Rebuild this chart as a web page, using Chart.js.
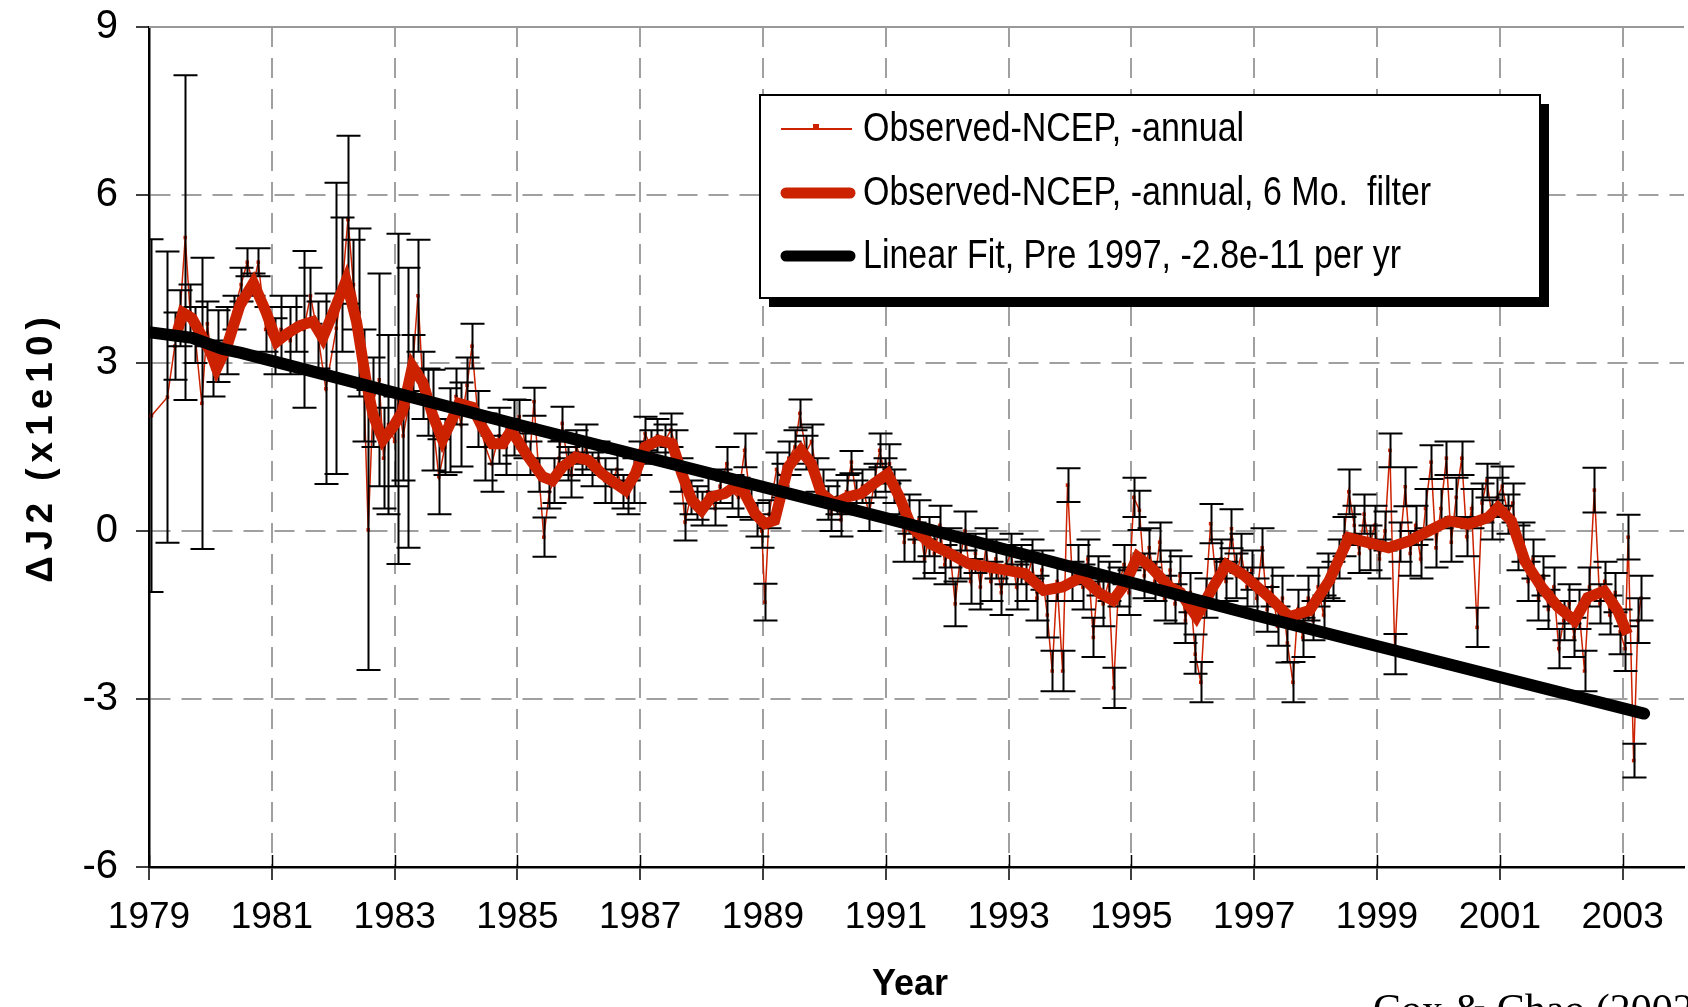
<!DOCTYPE html>
<html><head><meta charset="utf-8">
<script src="https://cdn.jsdelivr.net/npm/chart.js@4/dist/chart.umd.min.js"></script>
<style>html,body{margin:0;padding:0;background:#fff;overflow:hidden}#wrap{width:1688px;height:1007px;position:relative}</style>
</head><body><div id="wrap"><canvas id="c" width="1688" height="1007"></canvas></div>
<script>
// ---------- data ----------
const xTickYears = [1979,1981,1983,1985,1987,1989,1991,1993,1995,1997,1999,2001,2003];
const yTickValues = [-6,-3,0,3,6,9];

const obsYears = [
1979.04,1979.30,1979.42,1979.50,1979.59,1979.67,1979.75,1979.86,1979.95,1980.04,1980.13,1980.27,1980.38,1980.50,1980.60,1980.70,1980.78,1980.90,
1981.05,1981.15,1981.30,1981.40,1981.52,1981.63,1981.75,1981.88,1982.05,1982.15,1982.24,1982.33,1982.42,1982.50,1982.57,1982.65,1982.75,1982.82,1982.90,
1983.00,1983.06,1983.14,1983.22,1983.30,1983.38,1983.46,1983.55,1983.62,1983.72,1983.82,1983.90,1984.00,1984.08,1984.18,1984.26,1984.36,1984.48,1984.58,1984.70,1984.82,1984.95,
1985.03,1985.12,1985.20,1985.27,1985.35,1985.43,1985.52,1985.60,1985.68,1985.73,1985.82,1985.88,1985.96,1986.05,1986.12,1986.22,1986.32,1986.42,1986.52,1986.62,1986.72,1986.80,1986.90,
1987.00,1987.08,1987.18,1987.28,1987.40,1987.50,1987.58,1987.66,1987.73,1987.82,1987.92,1988.00,1988.10,1988.22,1988.30,1988.41,1988.50,1988.60,1988.70,1988.80,1988.90,1988.98,
1989.03,1989.10,1989.22,1989.32,1989.42,1989.52,1989.60,1989.70,1989.79,1989.88,1989.98,1990.06,1990.11,1990.20,1990.27,1990.36,1990.44,1990.52,1990.62,1990.73,1990.82,1990.90,1990.98,
1991.06,1991.14,1991.22,1991.30,1991.38,1991.46,1991.54,1991.63,1991.71,1991.79,1991.88,1991.96,
1992.04,1992.13,1992.21,1992.29,1992.38,1992.46,1992.54,1992.63,1992.71,1992.79,1992.88,1992.96,
1993.04,1993.13,1993.21,1993.29,1993.38,1993.46,1993.54,1993.63,1993.71,1993.79,1993.88,1993.96,
1994.04,1994.13,1994.21,1994.29,1994.38,1994.46,1994.54,1994.63,1994.71,1994.79,1994.88,1994.96,
1995.04,1995.13,1995.21,1995.29,1995.38,1995.46,1995.54,1995.63,1995.71,1995.79,1995.88,1995.96,
1996.04,1996.13,1996.21,1996.29,1996.38,1996.46,1996.54,1996.63,1996.71,1996.79,1996.88,1996.96,
1997.04,1997.13,1997.21,1997.29,1997.38,1997.46,1997.54,1997.63,1997.71,1997.79,1997.88,1997.96,
1998.04,1998.13,1998.21,1998.29,1998.38,1998.46,1998.54,1998.63,1998.71,1998.79,1998.88,1998.96,
1999.04,1999.13,1999.21,1999.29,1999.38,1999.46,1999.54,1999.63,1999.71,1999.79,1999.88,1999.96,
2000.04,2000.13,2000.21,2000.29,2000.38,2000.46,2000.54,2000.63,2000.71,2000.79,2000.88,2000.96,
2001.04,2001.13,2001.21,2001.29,2001.38,2001.46,2001.54,2001.63,2001.71,2001.79,2001.88,2001.96,
2002.04,2002.13,2002.21,2002.29,2002.38,2002.46,2002.54,2002.63,2002.71,2002.79,2002.88,2002.96,
2003.04,2003.09,2003.18,2003.25,2003.30];

const obsValues = [
2.06,2.39,3.3,3.8,5.24,3.9,3.5,2.28,3.7,2.9,3.3,3.4,3.9,4.4,4.8,4.4,4.8,3.6,
3.3,3.6,3.4,3.7,3.6,4.2,3.5,2.54,3.62,4.4,5.56,4.4,3.9,2.6,0.02,2.3,2.7,1.3,1.9,
1.6,2.36,1.7,2.2,3.0,4.2,2.6,2.3,1.98,0.97,1.5,1.8,2.4,1.9,2.6,3.3,2.0,1.5,1.2,1.7,1.5,1.85,
2.04,1.6,1.3,2.31,1.0,-0.11,0.7,0.9,1.3,1.92,1.2,1.0,1.5,1.3,1.5,1.1,1.3,0.9,0.8,1.1,0.7,0.6,0.9,
1.3,1.74,1.5,1.7,1.6,1.8,1.5,1.0,0.16,0.6,0.5,0.4,0.7,0.4,0.8,1.2,0.7,0.6,1.44,0.5,0.2,0.0,
-1.27,0.3,1.1,0.9,1.3,1.5,2.1,1.4,1.6,1.0,0.8,0.5,0.3,0.6,0.2,0.7,1.23,0.6,0.8,0.3,0.9,1.44,1.0,
1.2,0.8,0.6,-0.2,0.3,-0.2,0.2,-0.5,-0.1,-0.4,0.1,-0.6,
-0.3,-1.3,-0.5,0.0,-0.9,-0.4,-1.0,-0.3,-0.9,-0.5,-1.1,-0.6,
-0.4,-1.0,-0.6,-0.9,-0.5,-1.2,-0.7,-1.5,-2.5,-0.9,-2.5,0.82,
-0.9,-0.6,-1.0,-0.5,-1.9,-0.8,-1.3,-0.9,-2.8,-1.0,-0.6,-1.1,
0.6,0.37,-0.8,-0.3,-0.9,-0.2,-1.2,-0.7,-1.3,-0.8,-1.6,-1.1,
-2.2,-2.7,-1.2,0.13,-0.9,-0.5,-0.9,0.04,-0.8,-0.4,-1.0,-0.7,
-1.2,-0.3,-1.4,-1.0,-1.7,-1.2,-2.0,-2.7,-1.4,-1.9,-1.2,-1.6,
-1.0,-1.5,-0.8,-0.9,-0.5,-0.1,0.7,0.1,-0.4,0.3,-0.3,0.1,
-0.5,0.0,1.44,-2.2,-0.2,0.79,-0.4,0.1,-0.5,0.4,1.23,-0.3,
0.4,1.3,-0.2,0.6,1.3,-0.1,0.4,-1.72,0.5,0.9,0.2,0.6,
0.8,0.3,0.5,-0.3,-0.2,-0.9,-0.5,-1.2,-0.8,-1.4,-1.0,-2.1,
-1.6,-1.3,-1.9,-1.4,-2.5,-1.0,0.73,-1.3,-0.9,-1.5,-1.1,-1.8,
-2.1,-0.11,-4.1,-1.6,-1.2];

const obsErrors = [
3.15,2.6,0.6,0.5,2.9,0.5,0.5,2.6,0.4,0.5,0.64,0.6,0.3,0.3,0.25,0.2,0.25,0.4,
0.5,0.6,0.6,0.5,1.4,0.5,0.6,1.7,2.6,1.2,1.5,0.8,1.5,1.0,2.5,0.8,1.9,0.9,1.6,
0.8,2.95,0.8,2.5,0.5,1.0,0.6,0.6,0.9,0.67,0.5,0.75,0.5,0.75,0.5,0.4,0.5,0.6,0.5,0.5,0.5,0.5,
0.3,0.3,0.3,0.25,0.3,0.35,0.3,0.4,0.3,0.3,0.3,0.4,0.3,0.3,0.4,0.3,0.3,0.4,0.3,0.3,0.3,0.3,0.4,
0.3,0.3,0.3,0.3,0.3,0.3,0.3,0.3,0.33,0.3,0.3,0.3,0.3,0.3,0.3,0.3,0.3,0.35,0.3,0.3,0.3,0.3,
0.33,0.25,0.3,0.3,0.3,0.3,0.25,0.3,0.3,0.3,0.3,0.3,0.3,0.3,0.3,0.3,0.2,0.3,0.3,0.3,0.3,0.3,0.3,
0.35,0.3,0.3,0.35,0.35,0.35,0.35,0.35,0.35,0.35,0.35,0.35,
0.35,0.4,0.35,0.35,0.4,0.35,0.4,0.35,0.35,0.35,0.4,0.35,
0.35,0.4,0.35,0.35,0.35,0.4,0.35,0.4,0.36,0.35,0.36,0.3,
0.35,0.35,0.4,0.35,0.35,0.35,0.4,0.35,0.36,0.35,0.35,0.4,
0.35,0.35,0.4,0.35,0.35,0.35,0.4,0.35,0.35,0.35,0.4,0.35,
0.35,0.36,0.35,0.35,0.4,0.35,0.35,0.35,0.4,0.35,0.35,0.35,
0.35,0.35,0.4,0.35,0.35,0.4,0.35,0.36,0.35,0.35,0.4,0.35,
0.35,0.35,0.4,0.35,0.35,0.35,0.4,0.35,0.35,0.35,0.4,0.35,
0.35,0.35,0.3,0.36,0.35,0.35,0.4,0.35,0.35,0.35,0.3,0.35,
0.35,0.3,0.35,0.35,0.3,0.35,0.35,0.35,0.35,0.3,0.35,0.35,
0.35,0.35,0.35,0.4,0.35,0.35,0.35,0.4,0.35,0.35,0.35,0.35,
0.35,0.35,0.35,0.35,0.36,0.35,0.4,0.35,0.35,0.35,0.35,0.4,
0.4,0.4,0.3,0.4,0.4];

const filtYears = [
1979.42,1979.55,1979.70,1979.85,1980.00,1980.10,1980.27,1980.48,1980.70,1980.91,1981.08,1981.24,1981.46,1981.67,1981.83,
1982.00,1982.21,1982.38,1982.54,1982.65,1982.81,1982.97,1983.13,1983.29,1983.46,1983.62,1983.78,1983.94,1984.05,1984.27,
1984.43,1984.59,1984.76,1984.90,1985.14,1985.41,1985.57,1985.73,1985.95,1986.16,1986.38,1986.60,1986.76,1986.92,1987.08,
1987.30,1987.52,1987.68,1987.84,1988.00,1988.16,1988.38,1988.54,1988.70,1988.87,1989.03,1989.19,1989.30,1989.41,1989.62,
1989.79,1989.95,1990.17,1990.38,1990.60,1990.81,1991.03,1991.22,1991.42,1991.73,1992.04,1992.34,1992.65,1992.96,1993.27,
1993.57,1993.88,1994.19,1994.49,1994.70,1994.90,1995.10,1995.31,1995.62,1995.80,1996.06,1996.33,1996.55,1996.82,1997.25,
1997.57,1997.90,1998.22,1998.54,1998.76,1999.19,1999.52,1999.84,2000.17,2000.49,2000.81,2000.97,2001.19,2001.41,2001.68,
2001.95,2002.22,2002.43,2002.70,2002.92,2003.08];
const filtValues = [
3.4,3.9,3.8,3.5,3.2,2.9,3.3,4.03,4.43,3.9,3.38,3.52,3.67,3.74,3.45,
3.9,4.47,3.74,2.65,2.07,1.63,1.85,2.14,2.94,2.65,2.07,1.63,2.0,2.28,2.21,
1.85,1.56,1.56,1.8,1.38,0.97,0.9,1.14,1.32,1.26,1.02,0.85,0.73,1.02,1.5,
1.62,1.56,1.02,0.55,0.37,0.61,0.67,0.79,0.67,0.31,0.13,0.19,0.67,1.14,1.44,
1.2,0.67,0.49,0.61,0.67,0.85,1.02,0.61,0.07,-0.23,-0.4,-0.58,-0.64,-0.7,-0.76,
-1.06,-1.0,-0.82,-1.12,-1.24,-0.94,-0.46,-0.64,-1.0,-1.1,-1.53,-1.0,-0.6,-0.78,-1.19,
-1.53,-1.42,-0.89,-0.12,-0.18,-0.3,-0.18,0.0,0.18,0.12,0.24,0.42,0.18,-0.54,-1.0,
-1.36,-1.6,-1.19,-1.07,-1.42,-1.84];

const fitYears  = [1979.0,1979.7,1980.2,1980.5,1985.0,1991.0,1997.0,2003.35];
const fitValues = [3.55,3.45,3.25,3.18,1.9,0.23,-1.5,-3.26];

const legendLabels = ['Observed-NCEP, -annual','Observed-NCEP, -annual, 6 Mo.  filter','Linear Fit, Pre 1997, -2.8e-11 per yr'];
const xTitle = 'Year';
const yTitle = '\u0394J2 (x1e10)';
const credit = 'Cox & Chao (2002)';

// ---------- styling ----------
const RED = '#cc2200';
const SANS = '"Liberation Sans", Arial, sans-serif';
const pts = (xs, ys) => xs.map((x, i) => ({x, y: ys[i]}));

const extras = {
  id: 'extras',
  afterDatasetDraw(chart, args) {
    if (args.index !== 0) return;
    const {ctx, chartArea: a} = chart;
    const xs = chart.scales.x, ys = chart.scales.y;
    ctx.save();
    ctx.beginPath(); ctx.rect(a.left, a.top - 2, a.right - a.left, a.bottom - a.top + 4); ctx.clip();
    ctx.strokeStyle = '#000'; ctx.lineWidth = 2;
    ctx.beginPath();
    obsYears.forEach((yr, i) => {
      const px = Math.round(xs.getPixelForValue(yr)) + 0.5;
      const top = ys.getPixelForValue(obsValues[i] + obsErrors[i]);
      const bot = ys.getPixelForValue(obsValues[i] - obsErrors[i]);
      ctx.moveTo(px, top); ctx.lineTo(px, bot);
      ctx.moveTo(px - 12, top); ctx.lineTo(px + 12, top);
      ctx.moveTo(px - 12, bot); ctx.lineTo(px + 12, bot);
    });
    ctx.stroke();
    ctx.restore();
  },
  afterDraw(chart) {
    const {ctx, chartArea: a} = chart;
    const xs = chart.scales.x;
    ctx.save();
    // top border of plot area
    ctx.strokeStyle = '#999'; ctx.lineWidth = 2;
    ctx.beginPath(); ctx.moveTo(a.left, a.top); ctx.lineTo(a.right, a.top); ctx.stroke();
    // inner half of x tick marks
    ctx.strokeStyle = '#000'; ctx.lineWidth = 1.5;
    ctx.beginPath();
    xTickYears.forEach(v => { const px = Math.round(xs.getPixelForValue(v)) + 0.5; ctx.moveTo(px, a.bottom); ctx.lineTo(px, a.bottom - 12); });
    ctx.stroke();
    // legend
    const L = 760, T = 95, W = 780, H = 203;
    ctx.fillStyle = '#000'; ctx.fillRect(L + 9, T + 9, W, H);
    ctx.fillStyle = '#fff'; ctx.fillRect(L, T, W, H);
    ctx.strokeStyle = '#000'; ctx.lineWidth = 2; ctx.strokeRect(L, T, W, H);
    const rows = [129, 193, 256];
    ctx.strokeStyle = RED; ctx.lineWidth = 2;
    ctx.beginPath(); ctx.moveTo(781, rows[0]); ctx.lineTo(852, rows[0]); ctx.stroke();
    ctx.fillStyle = RED; ctx.fillRect(813, rows[0] - 5, 6, 6);
    ctx.lineWidth = 11; ctx.lineCap = 'round';
    ctx.beginPath(); ctx.moveTo(786, rows[1]); ctx.lineTo(850, rows[1]); ctx.stroke();
    ctx.strokeStyle = '#000';
    ctx.beginPath(); ctx.moveTo(786, rows[2]); ctx.lineTo(850, rows[2]); ctx.stroke();
    ctx.fillStyle = '#000'; ctx.textBaseline = 'middle'; ctx.textAlign = 'left';
    ctx.font = '40px ' + SANS;
    legendLabels.forEach((t, i) => {
      ctx.save(); ctx.translate(863, rows[i] + 1); ctx.scale(0.85, 1); ctx.fillText(t, 0, 0); ctx.restore();
    });
    // axis titles
    ctx.font = 'bold 36px ' + SANS;
    ctx.textAlign = 'center'; ctx.textBaseline = 'alphabetic';
    ctx.fillText(xTitle, 910, 995);
    ctx.save();
    ctx.translate(52, 447); ctx.rotate(-Math.PI / 2);
    ctx.font = 'bold 37px ' + SANS;
    ctx.letterSpacing = '6px';
    ctx.fillText(yTitle, 0, 0);
    ctx.restore();
    // credit (cut off at bottom like the reference)
    ctx.font = '42px "Liberation Serif", "Times New Roman", serif';
    ctx.textAlign = 'left';
    ctx.fillText(credit, 1373, 1023);
    ctx.restore();
  }
};

new Chart(document.getElementById('c'), {
  type: 'line',
  data: {
    datasets: [
      {label: legendLabels[0], data: pts(obsYears, obsValues), borderColor: RED, backgroundColor: RED,
       borderWidth: 1.5, pointStyle: 'rect', pointRadius: 2.5, pointBorderWidth: 0, tension: 0, order: 3},
      {label: legendLabels[1], data: pts(filtYears, filtValues), borderColor: RED, backgroundColor: RED,
       borderWidth: 11, pointRadius: 0, tension: 0, borderJoinStyle: 'miter', order: 2},
      {label: legendLabels[2], data: pts(fitYears, fitValues), borderColor: '#000', backgroundColor: '#000',
       borderWidth: 12, pointRadius: 0, tension: 0, borderCapStyle: 'round', order: 1}
    ]
  },
  options: {
    responsive: false, animation: false, devicePixelRatio: 1,
    layout: {padding: {top: 27, right: 0, left: 0, bottom: 0}},
    plugins: {legend: {display: false}, tooltip: {enabled: false}},
    scales: {
      x: {
        type: 'linear', min: 1979, max: 2004,
        afterBuildTicks: s => { s.ticks = xTickYears.map(v => ({value: v})); },
        afterFit: s => { s.height = 140; },
        ticks: {color: '#000', font: {family: SANS, size: 37}, padding: 16, maxRotation: 0, autoSkip: false,
                callback: v => String(v)},
        grid: {color: '#a0a0a0', lineWidth: 2, tickLength: 13, tickColor: '#000', tickWidth: 1.5, tickBorderDash: []},
        border: {color: '#000', width: 2.5, dash: [20, 11]}
      },
      y: {
        min: -6, max: 9,
        afterBuildTicks: s => { s.ticks = yTickValues.map(v => ({value: v})); },
        afterFit: s => { s.width = 149; },
        ticks: {color: '#000', font: {family: SANS, size: 40, lineHeight: 0.4}, padding: 18, callback: v => String(v)},
        grid: {color: '#a0a0a0', lineWidth: 2, tickLength: 13, tickColor: '#000', tickWidth: 1.5, tickBorderDash: []},
        border: {color: '#000', width: 2.5, dash: [20, 11]}
      }
    }
  },
  plugins: [extras]
});
</script>
</body></html>
